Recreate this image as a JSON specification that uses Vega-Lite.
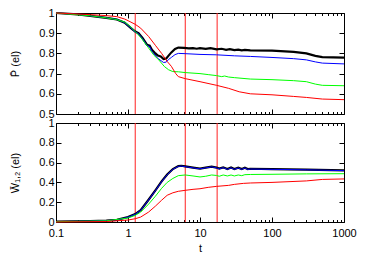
{
  "$schema": "https://vega.github.io/schema/vega-lite/v6.json",
  "padding": {"left": 9, "top": 6, "right": 5, "bottom": 5},
  "bounds": "flush",
  "spacing": 9,
  "config": {
    "font": "Liberation Sans",
    "view": {"stroke": "black", "strokeWidth": 1},
    "axis": {
      "domain": false, "grid": false, "tickColor": "black", "labelColor": "black",
      "titleColor": "black", "labelFontSize": 11, "titleFontSize": 11, "titleFontWeight": "normal",
      "labelFont": "Liberation Sans", "titleFont": "Liberation Sans", "labelFlush": false
    }
  },
  "datasets": {
    "vlines": [{"t": 1.26}, {"t": 6.24}, {"t": 17.3}],
    "P": [
      {"s": "a", "t": 0.1, "v": 1.0}, {"s": "a", "t": 0.2, "v": 0.993}, {"s": "a", "t": 0.3, "v": 0.986}, {"s": "a", "t": 0.5, "v": 0.976}, {"s": "a", "t": 0.7, "v": 0.968}, {"s": "a", "t": 0.9, "v": 0.952}, {"s": "a", "t": 1.1, "v": 0.925}, {"s": "a", "t": 1.26, "v": 0.908}, {"s": "a", "t": 1.4, "v": 0.9}, {"s": "a", "t": 1.6, "v": 0.875}, {"s": "a", "t": 1.83, "v": 0.843}, {"s": "a", "t": 2.0, "v": 0.838}, {"s": "a", "t": 2.15, "v": 0.818}, {"s": "a", "t": 2.4, "v": 0.8}, {"s": "a", "t": 2.6, "v": 0.789}, {"s": "a", "t": 2.85, "v": 0.785}, {"s": "a", "t": 3.12, "v": 0.772}, {"s": "a", "t": 3.4, "v": 0.775}, {"s": "a", "t": 3.66, "v": 0.789}, {"s": "a", "t": 4.0, "v": 0.805}, {"s": "a", "t": 4.5, "v": 0.822}, {"s": "a", "t": 5.0, "v": 0.829}, {"s": "a", "t": 6.0, "v": 0.827}, {"s": "a", "t": 7.0, "v": 0.825}, {"s": "a", "t": 8.0, "v": 0.826}, {"s": "a", "t": 9.0, "v": 0.823}, {"s": "a", "t": 10.0, "v": 0.826}, {"s": "a", "t": 12.0, "v": 0.822}, {"s": "a", "t": 14.0, "v": 0.826}, {"s": "a", "t": 17.0, "v": 0.82}, {"s": "a", "t": 20.0, "v": 0.823}, {"s": "a", "t": 23.0, "v": 0.818}, {"s": "a", "t": 26.0, "v": 0.821}, {"s": "a", "t": 30.0, "v": 0.816}, {"s": "a", "t": 34.0, "v": 0.819}, {"s": "a", "t": 38.0, "v": 0.815}, {"s": "a", "t": 42.0, "v": 0.817}, {"s": "a", "t": 50.0, "v": 0.815}, {"s": "a", "t": 100.0, "v": 0.814}, {"s": "a", "t": 200.0, "v": 0.808}, {"s": "a", "t": 300.0, "v": 0.8}, {"s": "a", "t": 400.0, "v": 0.788}, {"s": "a", "t": 500.0, "v": 0.782}, {"s": "a", "t": 1000.0, "v": 0.779},
      {"s": "b", "t": 0.1, "v": 1.0}, {"s": "b", "t": 0.2, "v": 0.993}, {"s": "b", "t": 0.3, "v": 0.986}, {"s": "b", "t": 0.5, "v": 0.976}, {"s": "b", "t": 0.7, "v": 0.968}, {"s": "b", "t": 0.9, "v": 0.952}, {"s": "b", "t": 1.1, "v": 0.925}, {"s": "b", "t": 1.26, "v": 0.906}, {"s": "b", "t": 1.4, "v": 0.898}, {"s": "b", "t": 1.6, "v": 0.872}, {"s": "b", "t": 1.83, "v": 0.84}, {"s": "b", "t": 2.0, "v": 0.833}, {"s": "b", "t": 2.15, "v": 0.81}, {"s": "b", "t": 2.6, "v": 0.775}, {"s": "b", "t": 3.12, "v": 0.755}, {"s": "b", "t": 3.4, "v": 0.757}, {"s": "b", "t": 3.66, "v": 0.77}, {"s": "b", "t": 4.0, "v": 0.78}, {"s": "b", "t": 4.5, "v": 0.794}, {"s": "b", "t": 5.0, "v": 0.8}, {"s": "b", "t": 6.0, "v": 0.799}, {"s": "b", "t": 10.0, "v": 0.795}, {"s": "b", "t": 17.0, "v": 0.793}, {"s": "b", "t": 30.0, "v": 0.788}, {"s": "b", "t": 50.0, "v": 0.785}, {"s": "b", "t": 100.0, "v": 0.78}, {"s": "b", "t": 200.0, "v": 0.774}, {"s": "b", "t": 300.0, "v": 0.768}, {"s": "b", "t": 400.0, "v": 0.758}, {"s": "b", "t": 500.0, "v": 0.752}, {"s": "b", "t": 1000.0, "v": 0.748},
      {"s": "c", "t": 0.1, "v": 1.0}, {"s": "c", "t": 0.3, "v": 0.986}, {"s": "c", "t": 0.5, "v": 0.976}, {"s": "c", "t": 0.7, "v": 0.967}, {"s": "c", "t": 0.9, "v": 0.955}, {"s": "c", "t": 1.1, "v": 0.93}, {"s": "c", "t": 1.26, "v": 0.908}, {"s": "c", "t": 1.5, "v": 0.88}, {"s": "c", "t": 1.93, "v": 0.827}, {"s": "c", "t": 2.3, "v": 0.79}, {"s": "c", "t": 2.66, "v": 0.769}, {"s": "c", "t": 3.2, "v": 0.735}, {"s": "c", "t": 3.66, "v": 0.719}, {"s": "c", "t": 4.2, "v": 0.71}, {"s": "c", "t": 5.0, "v": 0.709}, {"s": "c", "t": 6.24, "v": 0.705}, {"s": "c", "t": 10.0, "v": 0.7}, {"s": "c", "t": 13.0, "v": 0.695}, {"s": "c", "t": 17.0, "v": 0.69}, {"s": "c", "t": 20.0, "v": 0.685}, {"s": "c", "t": 22.0, "v": 0.688}, {"s": "c", "t": 25.0, "v": 0.683}, {"s": "c", "t": 30.0, "v": 0.68}, {"s": "c", "t": 50.0, "v": 0.673}, {"s": "c", "t": 100.0, "v": 0.67}, {"s": "c", "t": 200.0, "v": 0.665}, {"s": "c", "t": 300.0, "v": 0.66}, {"s": "c", "t": 400.0, "v": 0.648}, {"s": "c", "t": 500.0, "v": 0.642}, {"s": "c", "t": 1000.0, "v": 0.64},
      {"s": "d", "t": 0.1, "v": 1.0}, {"s": "d", "t": 0.3, "v": 0.992}, {"s": "d", "t": 0.5, "v": 0.987}, {"s": "d", "t": 0.7, "v": 0.982}, {"s": "d", "t": 0.9, "v": 0.97}, {"s": "d", "t": 1.0, "v": 0.962}, {"s": "d", "t": 1.26, "v": 0.944}, {"s": "d", "t": 1.5, "v": 0.925}, {"s": "d", "t": 1.93, "v": 0.884}, {"s": "d", "t": 2.4, "v": 0.84}, {"s": "d", "t": 2.93, "v": 0.8}, {"s": "d", "t": 3.5, "v": 0.76}, {"s": "d", "t": 4.0, "v": 0.736}, {"s": "d", "t": 4.6, "v": 0.7}, {"s": "d", "t": 5.0, "v": 0.685}, {"s": "d", "t": 6.24, "v": 0.675}, {"s": "d", "t": 10.0, "v": 0.66}, {"s": "d", "t": 17.0, "v": 0.642}, {"s": "d", "t": 25.0, "v": 0.627}, {"s": "d", "t": 35.0, "v": 0.61}, {"s": "d", "t": 50.0, "v": 0.6}, {"s": "d", "t": 100.0, "v": 0.595}, {"s": "d", "t": 200.0, "v": 0.587}, {"s": "d", "t": 300.0, "v": 0.582}, {"s": "d", "t": 500.0, "v": 0.574}, {"s": "d", "t": 1000.0, "v": 0.571}
    ],
    "W": [
      {"s": "a", "t": 0.1, "v": 0.005}, {"s": "a", "t": 0.3, "v": 0.01}, {"s": "a", "t": 0.5, "v": 0.015}, {"s": "a", "t": 0.7, "v": 0.022}, {"s": "a", "t": 1.0, "v": 0.05}, {"s": "a", "t": 1.26, "v": 0.08}, {"s": "a", "t": 1.5, "v": 0.12}, {"s": "a", "t": 1.93, "v": 0.225}, {"s": "a", "t": 2.4, "v": 0.32}, {"s": "a", "t": 2.93, "v": 0.41}, {"s": "a", "t": 3.5, "v": 0.48}, {"s": "a", "t": 4.2, "v": 0.535}, {"s": "a", "t": 5.0, "v": 0.565}, {"s": "a", "t": 5.5, "v": 0.568}, {"s": "a", "t": 6.24, "v": 0.562}, {"s": "a", "t": 8.0, "v": 0.55}, {"s": "a", "t": 10.0, "v": 0.54}, {"s": "a", "t": 12.0, "v": 0.55}, {"s": "a", "t": 14.5, "v": 0.56}, {"s": "a", "t": 17.0, "v": 0.55}, {"s": "a", "t": 18.5, "v": 0.54}, {"s": "a", "t": 21.0, "v": 0.552}, {"s": "a", "t": 24.0, "v": 0.535}, {"s": "a", "t": 27.0, "v": 0.55}, {"s": "a", "t": 30.0, "v": 0.535}, {"s": "a", "t": 34.0, "v": 0.548}, {"s": "a", "t": 38.0, "v": 0.535}, {"s": "a", "t": 42.0, "v": 0.548}, {"s": "a", "t": 46.0, "v": 0.535}, {"s": "a", "t": 50.0, "v": 0.538}, {"s": "a", "t": 100.0, "v": 0.535}, {"s": "a", "t": 300.0, "v": 0.53}, {"s": "a", "t": 1000.0, "v": 0.522},
      {"s": "b", "t": 0.1, "v": 0.004}, {"s": "b", "t": 0.3, "v": 0.009}, {"s": "b", "t": 0.5, "v": 0.014}, {"s": "b", "t": 0.7, "v": 0.021}, {"s": "b", "t": 1.0, "v": 0.048}, {"s": "b", "t": 1.26, "v": 0.078}, {"s": "b", "t": 1.5, "v": 0.118}, {"s": "b", "t": 1.93, "v": 0.222}, {"s": "b", "t": 2.4, "v": 0.317}, {"s": "b", "t": 2.93, "v": 0.407}, {"s": "b", "t": 3.5, "v": 0.477}, {"s": "b", "t": 4.2, "v": 0.532}, {"s": "b", "t": 5.0, "v": 0.562}, {"s": "b", "t": 5.5, "v": 0.565}, {"s": "b", "t": 6.24, "v": 0.559}, {"s": "b", "t": 8.0, "v": 0.547}, {"s": "b", "t": 10.0, "v": 0.537}, {"s": "b", "t": 12.0, "v": 0.547}, {"s": "b", "t": 14.5, "v": 0.557}, {"s": "b", "t": 17.0, "v": 0.547}, {"s": "b", "t": 18.5, "v": 0.537}, {"s": "b", "t": 21.0, "v": 0.549}, {"s": "b", "t": 24.0, "v": 0.532}, {"s": "b", "t": 27.0, "v": 0.547}, {"s": "b", "t": 30.0, "v": 0.532}, {"s": "b", "t": 34.0, "v": 0.545}, {"s": "b", "t": 38.0, "v": 0.532}, {"s": "b", "t": 42.0, "v": 0.545}, {"s": "b", "t": 46.0, "v": 0.532}, {"s": "b", "t": 50.0, "v": 0.535}, {"s": "b", "t": 100.0, "v": 0.532}, {"s": "b", "t": 300.0, "v": 0.527}, {"s": "b", "t": 1000.0, "v": 0.519},
      {"s": "c", "t": 0.1, "v": 0.003}, {"s": "c", "t": 0.5, "v": 0.012}, {"s": "c", "t": 1.0, "v": 0.04}, {"s": "c", "t": 1.26, "v": 0.067}, {"s": "c", "t": 1.5, "v": 0.1}, {"s": "c", "t": 1.93, "v": 0.18}, {"s": "c", "t": 2.4, "v": 0.26}, {"s": "c", "t": 2.93, "v": 0.34}, {"s": "c", "t": 3.5, "v": 0.4}, {"s": "c", "t": 4.2, "v": 0.44}, {"s": "c", "t": 5.0, "v": 0.468}, {"s": "c", "t": 6.24, "v": 0.475}, {"s": "c", "t": 8.0, "v": 0.465}, {"s": "c", "t": 10.0, "v": 0.455}, {"s": "c", "t": 12.0, "v": 0.462}, {"s": "c", "t": 14.5, "v": 0.475}, {"s": "c", "t": 17.0, "v": 0.47}, {"s": "c", "t": 18.5, "v": 0.462}, {"s": "c", "t": 21.0, "v": 0.475}, {"s": "c", "t": 24.0, "v": 0.465}, {"s": "c", "t": 27.0, "v": 0.475}, {"s": "c", "t": 30.0, "v": 0.465}, {"s": "c", "t": 34.0, "v": 0.475}, {"s": "c", "t": 38.0, "v": 0.468}, {"s": "c", "t": 42.0, "v": 0.478}, {"s": "c", "t": 50.0, "v": 0.48}, {"s": "c", "t": 100.0, "v": 0.482}, {"s": "c", "t": 300.0, "v": 0.486}, {"s": "c", "t": 1000.0, "v": 0.488},
      {"s": "d", "t": 0.1, "v": 0.0}, {"s": "d", "t": 0.5, "v": 0.005}, {"s": "d", "t": 1.0, "v": 0.02}, {"s": "d", "t": 1.26, "v": 0.033}, {"s": "d", "t": 1.5, "v": 0.05}, {"s": "d", "t": 1.93, "v": 0.1}, {"s": "d", "t": 2.4, "v": 0.16}, {"s": "d", "t": 2.93, "v": 0.22}, {"s": "d", "t": 3.5, "v": 0.27}, {"s": "d", "t": 4.2, "v": 0.295}, {"s": "d", "t": 5.0, "v": 0.31}, {"s": "d", "t": 6.24, "v": 0.32}, {"s": "d", "t": 8.0, "v": 0.33}, {"s": "d", "t": 10.0, "v": 0.336}, {"s": "d", "t": 13.0, "v": 0.35}, {"s": "d", "t": 17.0, "v": 0.36}, {"s": "d", "t": 25.0, "v": 0.37}, {"s": "d", "t": 30.0, "v": 0.38}, {"s": "d", "t": 40.0, "v": 0.39}, {"s": "d", "t": 50.0, "v": 0.394}, {"s": "d", "t": 100.0, "v": 0.4}, {"s": "d", "t": 300.0, "v": 0.415}, {"s": "d", "t": 500.0, "v": 0.43}, {"s": "d", "t": 1000.0, "v": 0.435}
    ]
  },
  "vconcat": [
    {
      "width": 288, "height": 101,
      "layer": [
        {
          "data": {"name": "vlines"},
          "mark": {"type": "rule", "color": "#ff2020", "strokeWidth": 1},
          "encoding": {
            "x": {"field": "t", "type": "quantitative", "scale": {"type": "log", "domain": [0.1, 1000], "nice": false},
              "axis": {"orient": "top", "title": null, "labels": false,
                "values": [0.1,0.2,0.3,0.4,0.5,0.6,0.7,0.8,0.9,1,2,3,4,5,6,7,8,9,10,20,30,40,50,60,70,80,90,100,200,300,400,500,600,700,800,900,1000],
                "tickSize": {"condition": {"test": "abs(log(datum.value)/LN10 - round(log(datum.value)/LN10)) < 0.001", "value": -5}, "value": -2.5}}}
          }
        },
        {
          "data": {"name": "P"},
          "mark": {"type": "line"},
          "encoding": {
            "x": {"field": "t", "type": "quantitative", "scale": {"type": "log", "domain": [0.1, 1000], "nice": false},
              "axis": {"orient": "bottom", "title": null, "labels": false,
                "values": [0.1,0.2,0.3,0.4,0.5,0.6,0.7,0.8,0.9,1,2,3,4,5,6,7,8,9,10,20,30,40,50,60,70,80,90,100,200,300,400,500,600,700,800,900,1000],
                "tickSize": {"condition": {"test": "abs(log(datum.value)/LN10 - round(log(datum.value)/LN10)) < 0.001", "value": -5}, "value": -2.5}}},
            "y": {"field": "v", "type": "quantitative", "scale": {"domain": [0.5, 1], "zero": false, "nice": false},
              "axis": {"orient": "left", "title": "P\u0304 (el)", "values": [0.5,0.6,0.7,0.8,0.9,1], "format": "~g", "tickSize": -5, "labelPadding": 7, "titlePadding": 18}},
            "color": {"field": "s", "type": "nominal", "scale": {"domain": ["a","b","c","d"], "range": ["#000000","#0000ff","#00ff00","#ff0000"]}, "legend": null},
            "strokeWidth": {"field": "s", "type": "nominal", "scale": {"type": "ordinal", "domain": ["a","b","c","d"], "range": [2.2,1,1,1]}, "legend": null}
          }
        },
        {
          "mark": {"type": "rule", "color": "black", "strokeWidth": 1},
          "encoding": {
            "y": {"datum": 1, "type": "quantitative", "scale": {"domain": [0.5, 1], "zero": false, "nice": false},
              "axis": {"orient": "right", "title": null, "labels": false, "values": [0.5,0.6,0.7,0.8,0.9,1], "tickSize": -5}}
          }
        }
      ],
      "resolve": {"axis": {"x": "independent", "y": "independent"}}
    },
    {
      "width": 288, "height": 99,
      "layer": [
        {
          "data": {"name": "vlines"},
          "mark": {"type": "rule", "color": "#ff2020", "strokeWidth": 1},
          "encoding": {
            "x": {"field": "t", "type": "quantitative", "scale": {"type": "log", "domain": [0.1, 1000], "nice": false},
              "axis": {"orient": "top", "title": null, "labels": false,
                "values": [0.1,0.2,0.3,0.4,0.5,0.6,0.7,0.8,0.9,1,2,3,4,5,6,7,8,9,10,20,30,40,50,60,70,80,90,100,200,300,400,500,600,700,800,900,1000],
                "tickSize": {"condition": {"test": "abs(log(datum.value)/LN10 - round(log(datum.value)/LN10)) < 0.001", "value": -5}, "value": -2.5}}}
          }
        },
        {
          "data": {"name": "W"},
          "mark": {"type": "line"},
          "encoding": {
            "x": {"field": "t", "type": "quantitative", "scale": {"type": "log", "domain": [0.1, 1000], "nice": false},
              "axis": {"orient": "bottom", "title": "t",
                "values": [0.1,0.2,0.3,0.4,0.5,0.6,0.7,0.8,0.9,1,2,3,4,5,6,7,8,9,10,20,30,40,50,60,70,80,90,100,200,300,400,500,600,700,800,900,1000],
                "labelExpr": "abs(log(datum.value)/LN10 - round(log(datum.value)/LN10)) < 0.001 ? format(datum.value, '~g') : ''",
                "labelPadding": 10.5, "titlePadding": 4,
                "tickSize": {"condition": {"test": "abs(log(datum.value)/LN10 - round(log(datum.value)/LN10)) < 0.001", "value": -5}, "value": -2.5}}},
            "y": {"field": "v", "type": "quantitative", "scale": {"domain": [0, 1], "zero": false, "nice": false},
              "axis": {"orient": "left", "title": "W\u0304\u2081,\u2082 (el)", "values": [0,0.2,0.4,0.6,0.8,1], "format": "~g", "tickSize": -5, "labelPadding": 7, "titlePadding": 18}},
            "color": {"field": "s", "type": "nominal", "scale": {"domain": ["a","b","c","d"], "range": ["#000000","#0000ff","#00ff00","#ff0000"]}, "legend": null},
            "strokeWidth": {"field": "s", "type": "nominal", "scale": {"type": "ordinal", "domain": ["a","b","c","d"], "range": [2.2,1,1,1]}, "legend": null}
          }
        },
        {
          "mark": {"type": "rule", "color": "black", "strokeWidth": 1},
          "encoding": {
            "y": {"datum": 1, "type": "quantitative", "scale": {"domain": [0, 1], "zero": false, "nice": false},
              "axis": {"orient": "right", "title": null, "labels": false, "values": [0,0.2,0.4,0.6,0.8,1], "tickSize": -5}}
          }
        }
      ],
      "resolve": {"axis": {"x": "independent", "y": "independent"}}
    }
  ]
}
